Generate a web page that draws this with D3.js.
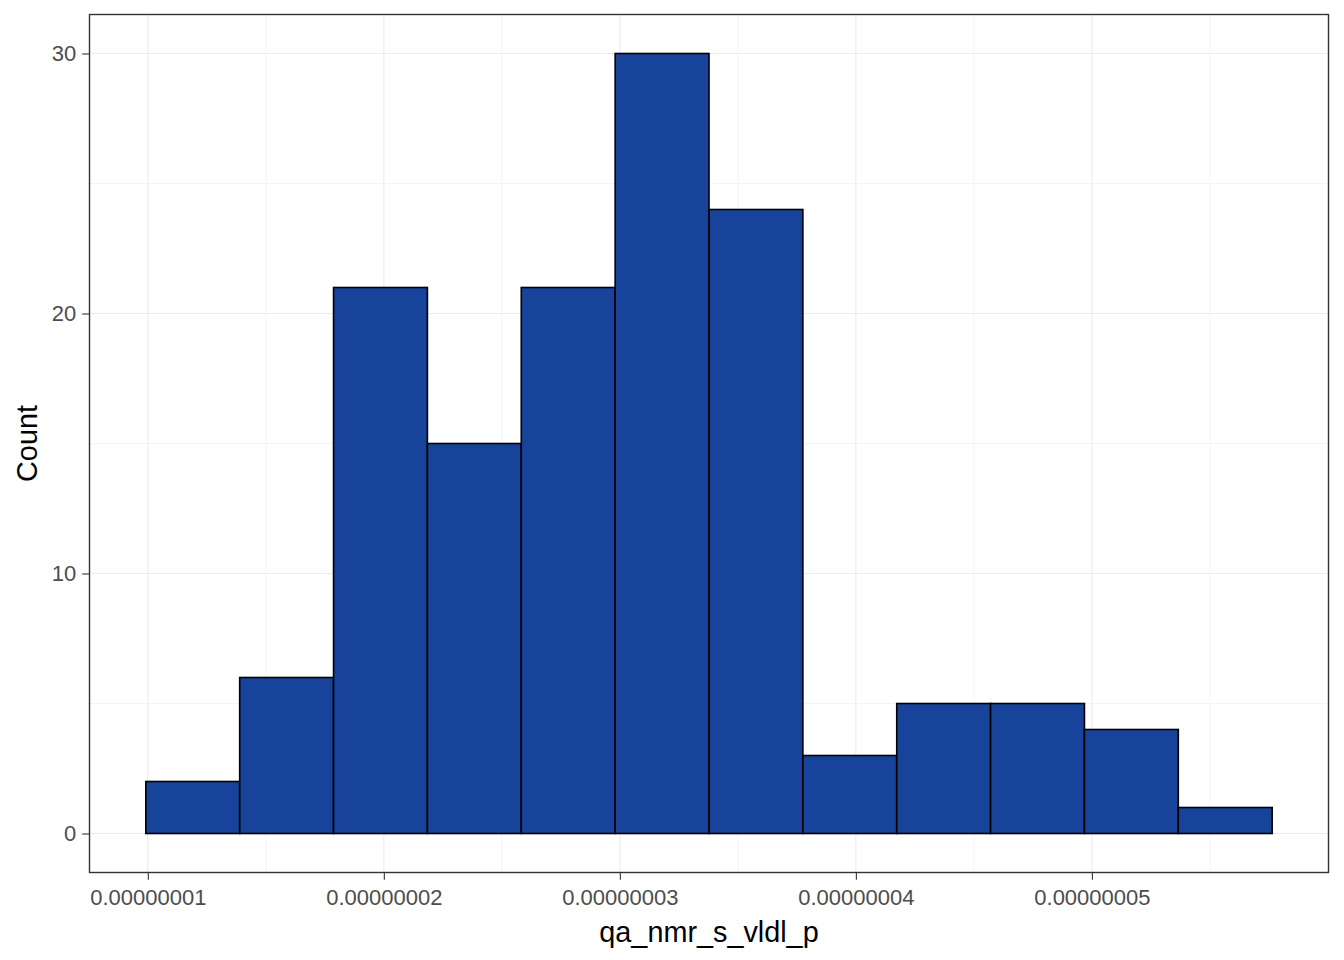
<!DOCTYPE html>
<html><head><meta charset="utf-8">
<script src="https://cdn.jsdelivr.net/npm/d3@7"></script>
<style>body{margin:0;background:#fff}svg{display:block}</style>
</head><body><svg id="c" width="1344" height="960"></svg>
<script>
const binStart = 0.9915e-8;
const binWidth = 0.3977e-8;
const counts = [2, 6, 21, 15, 21, 30, 24, 3, 5, 5, 4, 1];
const xTicks = [1e-8, 2e-8, 3e-8, 4e-8, 5e-8];
const xTickLabels = ["0.00000001", "0.00000002", "0.00000003", "0.00000004", "0.00000005"];
const yTicks = [0, 10, 20, 30];
const xTitle = "qa_nmr_s_vldl_p";
const yTitle = "Count";

const FONT = "Liberation Sans, Arial, sans-serif";
const bins = counts.map((c, i) => ({x0: binStart + i * binWidth, x1: binStart + (i + 1) * binWidth, c}));
const svg = d3.select("#c");
const L = 89.5, R = 1328.5, T = 14.5, B = 872.5;
const dMin = binStart, dMax = binStart + counts.length * binWidth, span = dMax - dMin;
const x = d3.scaleLinear().domain([dMin - 0.05 * span, dMax + 0.05 * span]).range([L, R]);
const yMax = d3.max(counts);
const y = d3.scaleLinear().domain([-0.05 * yMax, yMax * 1.05]).range([B, T]);

// minor grid
const xMinor = [];
for (let i = 0; i < xTicks.length - 1; i++) xMinor.push((xTicks[i] + xTicks[i + 1]) / 2);
xMinor.push(xTicks[xTicks.length - 1] + 0.5e-8);
xMinor.push(xTicks[0] - 0.5e-8);
const yMinor = [5, 15, 25];
const g = svg.append("g");
g.selectAll(".mx").data(xMinor.filter(v => x(v) > L && x(v) < R)).enter().append("line")
  .attr("x1", d => x(d)).attr("x2", d => x(d)).attr("y1", T).attr("y2", B)
  .attr("stroke", "#EBEBEB").attr("stroke-width", 0.55);
g.selectAll(".my").data(yMinor).enter().append("line")
  .attr("y1", d => y(d)).attr("y2", d => y(d)).attr("x1", L).attr("x2", R)
  .attr("stroke", "#EBEBEB").attr("stroke-width", 0.55);
g.selectAll(".Mx").data(xTicks).enter().append("line")
  .attr("x1", d => x(d)).attr("x2", d => x(d)).attr("y1", T).attr("y2", B)
  .attr("stroke", "#EBEBEB").attr("stroke-width", 1.1);
g.selectAll(".My").data(yTicks).enter().append("line")
  .attr("y1", d => y(d)).attr("y2", d => y(d)).attr("x1", L).attr("x2", R)
  .attr("stroke", "#EBEBEB").attr("stroke-width", 1.1);

// bars
svg.append("g").selectAll("rect").data(bins).enter().append("rect")
  .attr("x", d => x(d.x0)).attr("width", d => x(d.x1) - x(d.x0))
  .attr("y", d => y(d.c)).attr("height", d => y(0) - y(d.c))
  .attr("fill", "#17439B").attr("stroke", "#000").attr("stroke-width", 1.6);

// panel border
svg.append("rect").attr("x", L).attr("y", T).attr("width", R - L).attr("height", B - T)
  .attr("fill", "none").attr("stroke", "#333333").attr("stroke-width", 1.4);

// axes
const xAxis = d3.axisBottom(x).tickValues(xTicks).tickFormat((d, i) => xTickLabels[i]).tickSize(7.3).tickPadding(5.9);
const xa = svg.append("g").attr("transform", `translate(0,${B})`).call(xAxis);
const yAxis = d3.axisLeft(y).tickValues(yTicks).tickSize(7.3).tickPadding(5.9);
const ya = svg.append("g").attr("transform", `translate(${L},0)`).call(yAxis);
[xa, ya].forEach(a => {
  a.select(".domain").remove();
  a.selectAll(".tick line").attr("stroke", "#333333").attr("stroke-width", 1.1);
  a.selectAll(".tick text").attr("fill", "#4D4D4D").style("font-family", FONT).style("font-size", "22px");
});
xa.selectAll(".tick text").attr("dy", null).attr("y", null).attr("transform", null)
  .each(function() { d3.select(this).attr("y", 905 - B).attr("dy", 0); });

svg.append("text").attr("x", (L + R) / 2).attr("y", 942).attr("text-anchor", "middle")
  .style("font-family", FONT).style("font-size", "28.8px").attr("fill", "#000").text(xTitle);
svg.append("text").attr("transform", `translate(37,${(T + B) / 2}) rotate(-90)`).attr("text-anchor", "middle")
  .style("font-family", FONT).style("font-size", "28.8px").attr("fill", "#000").text(yTitle);
</script></body></html>
